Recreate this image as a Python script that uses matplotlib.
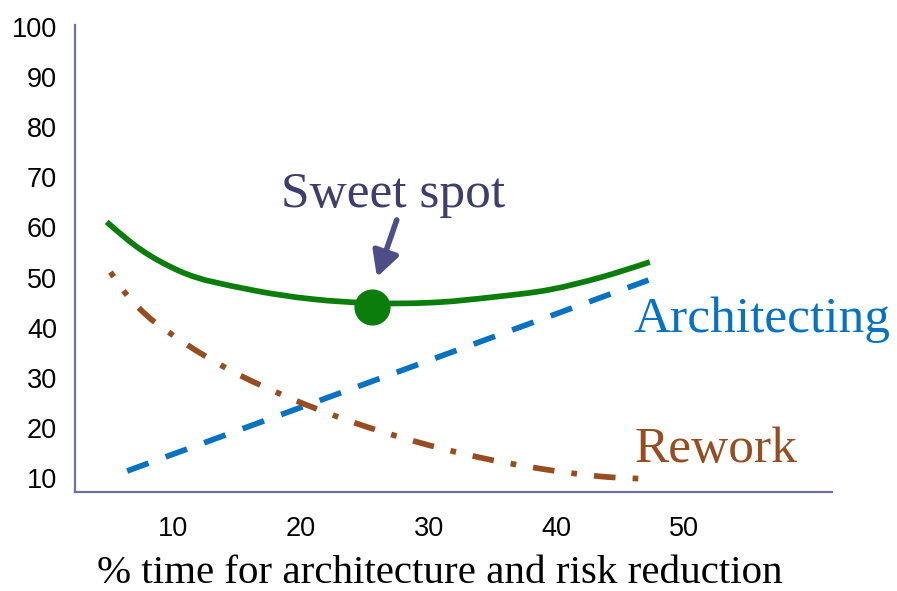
import matplotlib
matplotlib.use("Agg")
import matplotlib.pyplot as plt
from matplotlib.path import Path
from matplotlib.patches import PathPatch

# Total effort (green), architecting effort (blue) and rework (brown)
# versus the share of time spent on architecture and risk reduction.
total_x = [4.8, 7.4, 10.5, 15.8, 20.9, 25.6, 30.9, 35.0, 39.5, 43.4, 47.3]
total_y = [61.1, 55.7, 51.3, 47.7, 45.7, 44.9, 45.1, 46.1, 47.6, 50.0, 53.1]

arch_x = [6.4, 47.2]
arch_y = [11.4, 49.5]

rework_x = [5.1, 6.2, 8.0, 10.1, 14.4, 19.1, 24.0, 28.8, 33.8, 38.9, 44.0, 47.6]
rework_y = [51.1, 47.1, 42.3, 38.3, 31.6, 26.0, 21.2, 17.4, 14.2, 11.8, 10.2, 9.8]

sweet_x, sweet_y = 25.6, 44.1

x_ticks = [10, 20, 30, 40, 50]
y_ticks = [10, 20, 30, 40, 50, 60, 70, 80, 90, 100]

GREEN = "#0a7d0a"
BLUE = "#0872c2"
BROWN = "#984d20"
NAVY = "#3e3e6e"
ARROW = "#4d4d88"
SPINE = "#6e6eaa"
SERIF = "Liberation Serif"
SANS = "Liberation Sans"


def smooth_path(xs, ys):
    """Smoothed line through the points: cubic Hermite segments as Beziers."""
    n = len(xs)
    h = [xs[i + 1] - xs[i] for i in range(n - 1)]
    d = [(ys[i + 1] - ys[i]) / h[i] for i in range(n - 1)]
    m = [0.0] * n
    for i in range(1, n - 1):
        m[i] = (h[i - 1] * d[i] + h[i] * d[i - 1]) / (h[i - 1] + h[i])
    m[0] = (3 * d[0] - m[1]) / 2
    m[-1] = (3 * d[-1] - m[-2]) / 2
    verts = [(xs[0], ys[0])]
    codes = [Path.MOVETO]
    for i in range(n - 1):
        t = h[i] / 3
        verts += [(xs[i] + t, ys[i] + m[i] * t),
                  (xs[i + 1] - t, ys[i + 1] - m[i + 1] * t),
                  (xs[i + 1], ys[i + 1])]
        codes += [Path.CURVE4] * 3
    return Path(verts, codes)


fig = plt.figure(figsize=(8.97, 5.91), dpi=100)
ax = fig.add_axes([75 / 897, 99 / 591, 757 / 897, 467 / 591])

LW = 4.1
ax.add_patch(PathPatch(smooth_path(total_x, total_y), fill=False, edgecolor=GREEN,
                       lw=LW, capstyle="butt", zorder=3))
ax.plot(arch_x, arch_y, color=BLUE, lw=LW, dash_capstyle="butt",
        linestyle=(0, (4.0, 3.2)), zorder=2)
ax.add_patch(PathPatch(smooth_path(rework_x, rework_y), fill=False, edgecolor=BROWN,
                       lw=LW, capstyle="butt",
                       linestyle=(2.8, (3.8, 3.0, 1.0, 3.0)), zorder=2))
ax.plot([sweet_x], [sweet_y], marker="o", ms=25, color=GREEN, mec=GREEN, zorder=4)

ax.annotate("", xy=(25.95, 50.1), xytext=(27.5, 61.5),
            arrowprops=dict(arrowstyle="-|>,head_length=0.75,head_width=0.4",
                            color=ARROW, lw=4.0, mutation_scale=20,
                            shrinkA=0, shrinkB=0), zorder=5)

ax.text(27.24, 64.1, "Sweet spot", color=NAVY, family=SERIF, fontsize=37,
        ha="center", va="baseline")
ax.text(46.0, 39.1, "Architecting", color=BLUE, family=SERIF, fontsize=37,
        ha="left", va="baseline", clip_on=False)
ax.text(46.1, 13.2, "Rework", color=BROWN, family=SERIF, fontsize=37,
        ha="left", va="baseline")

ax.set_xlim(2.32, 61.56)
ax.set_ylim(7.21, 100.4)
ax.set_xticks(x_ticks)
ax.set_yticks(y_ticks)
ax.tick_params(length=0, labelsize=19.5)
ax.tick_params(axis="y", pad=13)
ax.tick_params(axis="x", pad=17)
for lab in ax.get_xticklabels() + ax.get_yticklabels():
    lab.set_family(SANS)

for side in ("top", "right"):
    ax.spines[side].set_visible(False)
for side in ("left", "bottom"):
    ax.spines[side].set_color(SPINE)
    ax.spines[side].set_linewidth(1.6)

fig.text(440 / 897, 8 / 591, "% time for architecture and risk reduction",
         family=SERIF, fontsize=29.5, ha="center", va="baseline", color="black")

fig.savefig("out.png", dpi=100)
